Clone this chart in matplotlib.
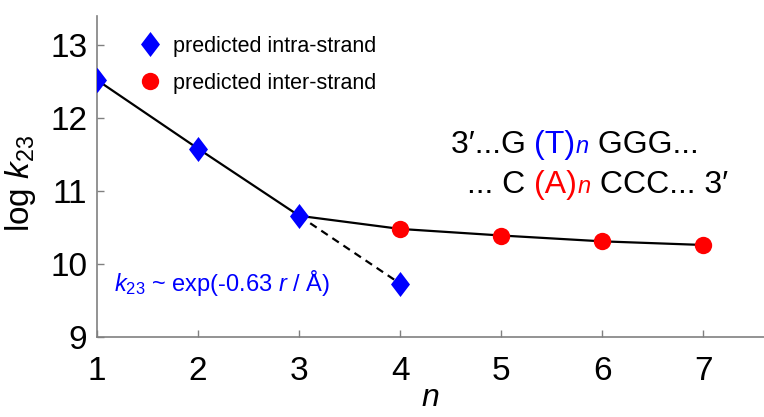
import matplotlib
matplotlib.use("Agg")
import matplotlib.pyplot as plt
from matplotlib.lines import Line2D
from matplotlib.path import Path

plt.rcParams['font.family'] = ['Liberation Sans', 'DejaVu Sans']
plt.rcParams['mathtext.fontset'] = 'custom'
plt.rcParams['mathtext.rm'] = 'Liberation Sans'
plt.rcParams['mathtext.it'] = 'Liberation Sans:italic'

# data
n_intra = [1, 2, 3, 4]
logk_intra = [12.52, 11.58, 10.66, 9.73]
n_inter = [4, 5, 6, 7]
logk_inter = [10.48, 10.39, 10.31, 10.26]
x_ticks = [1, 2, 3, 4, 5, 6, 7]
y_ticks = [9, 10, 11, 12, 13]

diamond = Path([(0, 1), (0.76, 0), (0, -1), (-0.76, 0), (0, 1)],
               [Path.MOVETO, Path.LINETO, Path.LINETO, Path.LINETO, Path.CLOSEPOLY])
DMS = 18
CMS = 12.5

fig = plt.figure(figsize=(7.64, 4.17), dpi=100)
ax = fig.add_axes([0.127, 0.192, 0.873, 0.770])

solid_x = n_intra[:3] + n_inter
solid_y = logk_intra[:3] + logk_inter
ax.plot(solid_x, solid_y, color='black', lw=1.6, zorder=2)
ax.plot(n_intra[2:4], logk_intra[2:4], color='black', lw=1.6, ls=(0, (3.5, 2.5)), zorder=2)

ax.plot(n_intra, logk_intra, ls='none', marker=diamond, ms=DMS, color='blue', mec='none', zorder=3)
ax.plot(n_inter, logk_inter, ls='none', marker='o', ms=CMS, color='red', mec='none', zorder=3)

ax.set_xlim(1, 7.6)
ax.set_ylim(9, 13.4)
ax.set_xticks(x_ticks)
ax.set_yticks(y_ticks)
ax.tick_params(direction='in', length=5, width=1, color='#808080', labelsize=24)
ax.tick_params(axis='x', pad=14)
ax.tick_params(axis='y', pad=7)
for s in ['top', 'right']:
    ax.spines[s].set_visible(False)
for s in ['left', 'bottom']:
    ax.spines[s].set_color('#808080')
    ax.spines[s].set_linewidth(1.2)

ax.set_xlabel('$n$', fontsize=23, labelpad=-3)
ax.set_ylabel('log $k_{23}$', fontsize=24)
ax.yaxis.set_label_coords(-0.088, 0.477)

handles = [Line2D([], [], ls='none', marker=diamond, ms=DMS, color='blue', mec='none'),
           Line2D([], [], ls='none', marker='o', ms=CMS, color='red', mec='none')]
ax.legend(handles, ['predicted intra-strand', 'predicted inter-strand'],
          loc='upper left', bbox_to_anchor=(0.041, 0.985), frameon=False,
          fontsize=15.5, handletextpad=0.55, labelspacing=0.75, handlelength=1.0,
          borderaxespad=0.3)

ax.text(0.025, 0.168, r'$k_{23}$ ~ exp(-0.63 $r$ / Å)', transform=ax.transAxes,
        color='blue', fontsize=17, va='center', ha='left')

fs = 23
y1, y2 = 0.572, 0.447
t = ax.text(0.53, y1, "3′...G ", transform=ax.transAxes, fontsize=fs, va='baseline')
fig.canvas.draw()
def after(prev, s, **kw):
    bb = prev.get_window_extent()
    inv = ax.transAxes.inverted()
    xa = inv.transform((bb.x1, 0))[0]
    return ax.text(xa, prev.get_position()[1], s, transform=ax.transAxes, va='baseline', **kw)
t2 = after(t, "(T)", fontsize=fs, color='blue')
t3 = after(t2, "$n$", fontsize=17, color='blue')
t4 = after(t3, " GGG...", fontsize=fs)

s1 = ax.text(0.555, y2, "... C ", transform=ax.transAxes, fontsize=fs, va='baseline')
s2 = after(s1, "(A)", fontsize=fs, color='red')
s3 = after(s2, "$n$", fontsize=17, color='red')
s4 = after(s3, " CCC... 3′", fontsize=fs)

fig.savefig('out.png', dpi=100)
